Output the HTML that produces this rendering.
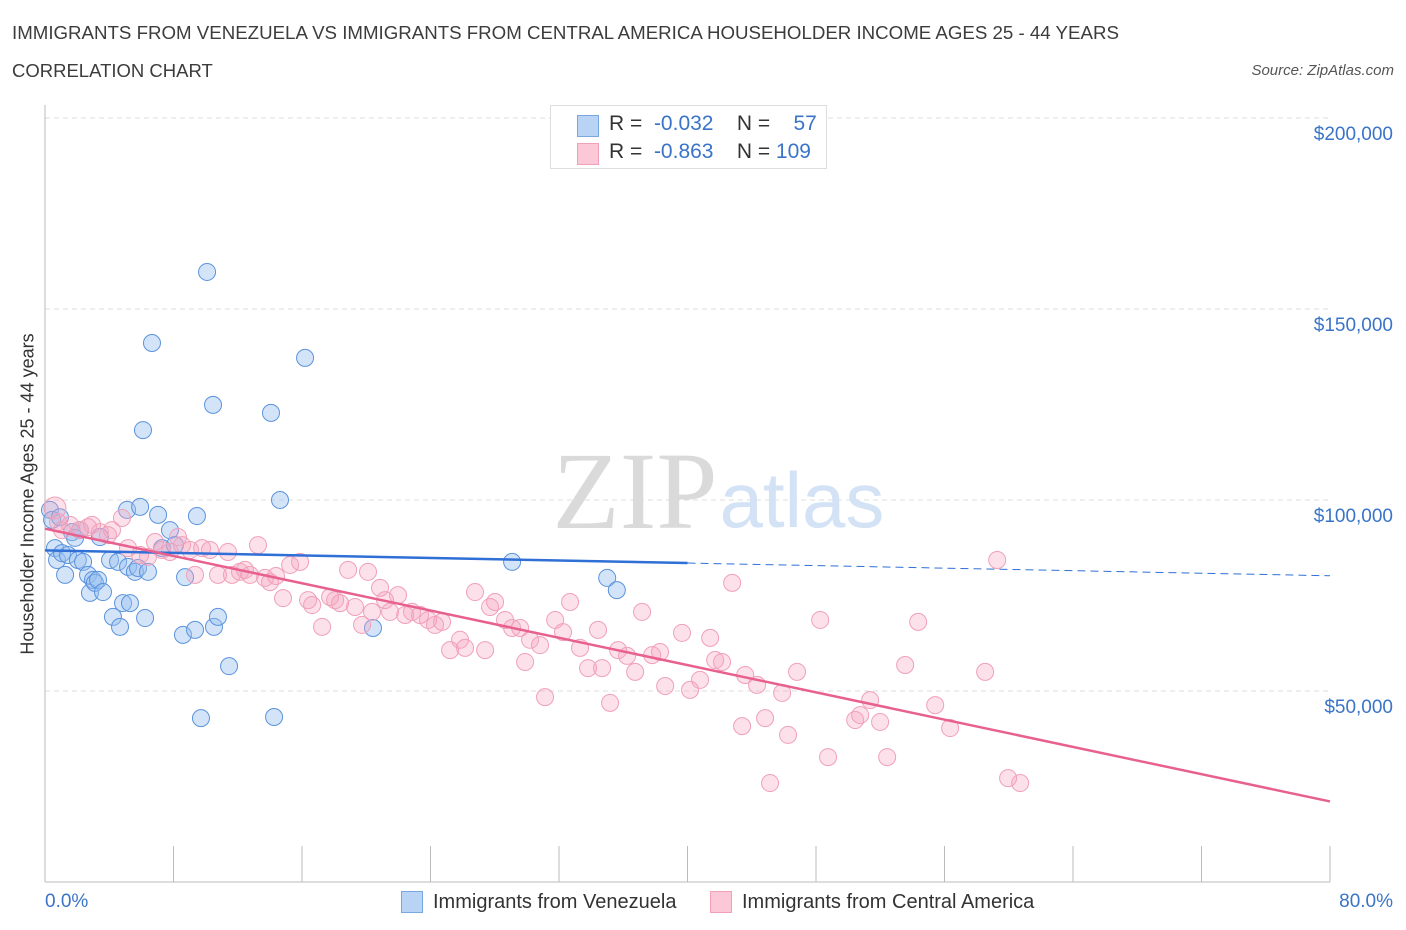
<!DOCTYPE html>
<html><head><meta charset="utf-8">
<style>
body{margin:0;background:#fff;font-family:"Liberation Sans",sans-serif;}
#wrap{position:relative;width:1406px;height:930px;overflow:hidden;}
.t{position:absolute;white-space:nowrap;}
</style></head>
<body><div id="wrap">
<div class="t" style="left:12px;top:22px;font-size:18.7px;color:#3c3c3c;">IMMIGRANTS FROM VENEZUELA VS IMMIGRANTS FROM CENTRAL AMERICA HOUSEHOLDER INCOME AGES 25 - 44 YEARS</div>
<div class="t" style="left:12px;top:60px;font-size:18.5px;color:#3c3c3c;">CORRELATION CHART</div>
<div class="t" style="right:12px;top:62px;font-size:15px;color:#555;font-style:italic;">Source: ZipAtlas.com</div>
<svg id="svg" width="1406" height="930" style="position:absolute;left:0;top:0"></svg>
<div style="position:absolute;left:550px;top:105px;width:275px;height:62px;border:1px solid #ddd;background:#fff;font-size:21px;">
<div style="position:absolute;left:26px;top:9px;width:20px;height:20px;background:#b9d3f5;border:1px solid #7aa7e0;"></div>
<div class="t" style="left:58px;top:6px;color:#333;">R = &nbsp;<span style="color:#3a74c8">-0.032</span>&nbsp;&nbsp;&nbsp;&nbsp;N = &nbsp;&nbsp;&nbsp;<span style="color:#3a74c8">57</span></div>
<div style="position:absolute;left:26px;top:37px;width:20px;height:20px;background:#fcc7d6;border:1px solid #f0a0b8;"></div>
<div class="t" style="left:58px;top:34px;color:#333;">R = &nbsp;<span style="color:#3a74c8">-0.863</span>&nbsp;&nbsp;&nbsp;&nbsp;N = <span style="color:#3a74c8">109</span></div>
</div>
<div class="t" style="left:28px;top:494px;font-size:18px;color:#333;transform:translate(-50%,-50%) rotate(-90deg);">Householder Income Ages 25 - 44 years</div>
<div class="t" style="left:45px;top:891px;font-size:19px;color:#3a74c8;">0.0%</div>
<div class="t" style="right:13px;top:891px;font-size:19px;color:#3a74c8;">80.0%</div>
<div style="position:absolute;left:401px;top:891px;width:20px;height:20px;background:#b9d3f5;border:1px solid #7aa7e0;"></div>
<div class="t" style="left:433px;top:891px;font-size:20px;color:#333;">Immigrants from Venezuela</div>
<div style="position:absolute;left:710px;top:891px;width:20px;height:20px;background:#fcc7d6;border:1px solid #f0a0b8;"></div>
<div class="t" style="left:742px;top:891px;font-size:20px;color:#333;">Immigrants from Central America</div>
</div>
<script>
const yTicks=[50000,100000,150000,200000];
const yTickLabels=["$50,000","$100,000","$150,000","$200,000"];
const blueX=[0.31,0.44,0.62,0.75,0.93,1.06,1.25,1.43,1.68,1.87,2.05,2.18,2.37,2.68,2.80,2.99,3.11,3.30,3.42,3.61,4.05,4.23,4.55,4.67,4.86,5.11,5.17,5.29,5.60,5.79,5.92,6.10,6.23,6.41,6.66,7.04,7.29,7.78,8.09,8.59,8.72,9.34,9.46,9.71,10.09,10.46,10.52,10.77,11.46,14.07,14.26,14.63,16.19,20.42,29.08,35.0,35.6];
const blueY=[97.4,94.8,87.4,84.3,95.5,86.1,80.4,85.6,91.6,90.1,84.3,92.1,83.8,80.4,75.7,79.1,78.3,79.1,90.3,75.9,84.3,69.4,83.8,66.8,73.0,97.4,82.5,73.0,81.2,82.2,98.2,118.3,69.1,81.2,141.1,96.1,87.4,92.1,88.2,64.7,79.8,66.0,95.8,42.9,159.7,124.9,66.8,69.4,56.5,122.8,43.2,100.0,137.2,66.5,83.8,79.6,76.4];
const pinkX=[0.62,0.81,1.06,1.56,2.18,2.68,2.93,3.42,3.92,4.17,4.79,5.17,5.92,6.41,6.85,7.29,7.78,8.28,8.53,9.03,9.34,9.78,10.27,10.77,11.39,11.64,12.14,12.45,12.76,13.26,13.70,14.01,14.38,14.82,15.26,15.88,16.38,16.63,17.25,17.75,18.06,18.37,18.87,19.30,19.74,20.11,20.36,20.86,21.17,21.48,21.98,22.42,22.85,23.35,23.85,24.28,24.72,25.22,25.84,26.15,26.77,27.40,27.71,28.02,28.64,29.08,29.58,29.89,30.20,30.82,31.13,31.76,32.25,32.69,33.31,33.81,34.43,34.68,35.18,35.68,36.24,36.74,37.17,37.80,38.29,38.61,39.66,40.16,40.78,41.41,41.72,42.15,42.78,43.40,43.59,44.33,44.83,45.89,46.26,46.82,48.26,48.75,50.44,50.75,51.37,51.99,52.43,53.55,54.36,55.42,56.35,58.53,59.28,59.96,60.71,45.14];
const pinkY=[97.9,94.2,92.1,93.5,92.1,92.9,93.5,91.6,90.8,92.1,95.3,87.4,85.6,85.1,89.0,86.9,86.4,90.3,88.2,86.9,80.4,87.4,86.9,80.4,86.4,80.4,81.2,81.7,80.4,88.2,79.6,78.5,80.1,74.3,83.0,83.8,73.8,72.5,66.8,74.6,73.8,73.0,81.7,72.0,67.3,81.2,70.7,77.0,73.8,70.7,75.1,69.9,70.7,69.9,68.6,67.3,68.1,60.7,63.4,61.3,75.9,60.7,72.0,73.3,68.6,66.5,66.5,57.6,63.4,62.0,48.4,68.6,65.4,73.3,61.3,56.0,66.0,56.0,46.9,60.7,59.2,55.0,70.7,59.4,60.2,51.3,65.2,50.3,52.9,63.9,58.1,57.6,78.3,40.8,54.2,51.6,42.9,49.5,38.5,55.0,68.6,32.7,42.4,43.7,47.6,41.9,32.7,56.8,68.1,46.3,40.3,55.0,84.3,27.2,25.9,25.9];

const NS="http://www.w3.org/2000/svg";
const svg=document.getElementById('svg');
const X0=45,X1=1330,Y0=882,Y200=118;
function sx(p){return X0+(p/80)*(X1-X0);}
function sy(v){return Y0-(v/200000)*(Y0-Y200);}
function mk(tag,attrs){const e=document.createElementNS(NS,tag);for(const k in attrs)e.setAttribute(k,attrs[k]);svg.appendChild(e);return e;}

yTicks.forEach((t,i)=>{
  const g=mk('line',{x1:X0,x2:X1,y1:sy(t),y2:sy(t),stroke:'#dcdcdc','stroke-dasharray':'5,4','stroke-width':1});
  
  
  const tx=mk('text',{x:1393,y:sy(t)+22,'text-anchor':'end','font-size':19,fill:'#3a74c8','font-family':'Liberation Sans, sans-serif'});
  tx.textContent=yTickLabels[i];
  
  
});
const ya=mk('line',{x1:X0,x2:X0,y1:105,y2:Y0,stroke:'#bbb','stroke-width':1});


const xa=mk('line',{x1:X0,x2:X1,y1:Y0,y2:Y0,stroke:'#bbb','stroke-width':1});


for(let i=1;i<=10;i++){
  const tk=mk('line',{x1:sx(i*8),x2:sx(i*8),y1:846,y2:Y0,stroke:'#bbb','stroke-width':1});
  
  
}
const w1=mk('text',{x:635,y:528,'text-anchor':'middle','font-size':110,fill:'#dadada','font-family':'Liberation Serif, serif'});
w1.textContent='ZIP';


const w2=mk('text',{x:802,y:527,'text-anchor':'middle','font-size':78,fill:'#d3e2f5','font-family':'Liberation Sans, sans-serif'});
w2.textContent='atlas';



function fit(xs,ys){const n=xs.length;let mx=0,my=0;for(let i=0;i<n;i++){mx+=xs[i];my+=ys[i];}mx/=n;my/=n;let a=0,b=0;for(let i=0;i<n;i++){a+=(xs[i]-mx)*(ys[i]-my);b+=(xs[i]-mx)**2;}const s=a/b;return [my-s*mx,s];}

blueX.forEach((x,i)=>{
  const c=mk('circle',{cx:sx(x),cy:sy(blueY[i]*1000),r:8.5,fill:'rgba(150,190,240,0.42)',stroke:'#5b93dd','stroke-width':1});
  
  
});
pinkX.forEach((x,i)=>{
  const c=mk('circle',{cx:sx(x),cy:sy(pinkY[i]*1000),r:i==0?11:8.5,fill:'rgba(245,165,190,0.33)',stroke:'#f0a0b8','stroke-width':1});
  
  
});
const bmax=Math.max(40,Math.max(...blueX));
const bf=fit(blueX,blueY);
const bl=mk('line',{x1:sx(0),y1:sy(bf[0]*1000),x2:sx(bmax),y2:sy((bf[0]+bf[1]*bmax)*1000),stroke:'#2f6fd6','stroke-width':2.5});


const bd=mk('line',{x1:sx(bmax),y1:sy((bf[0]+bf[1]*bmax)*1000),x2:sx(80),y2:sy((bf[0]+bf[1]*80)*1000),stroke:'#2f6fd6','stroke-width':1,'stroke-dasharray':'8,5'});


const pf=fit(pinkX,pinkY);
const pl=mk('line',{x1:sx(0),y1:sy(pf[0]*1000),x2:sx(80),y2:sy((pf[0]+pf[1]*80)*1000),stroke:'#e8608f','stroke-width':2.5});


</script>
</body></html>
